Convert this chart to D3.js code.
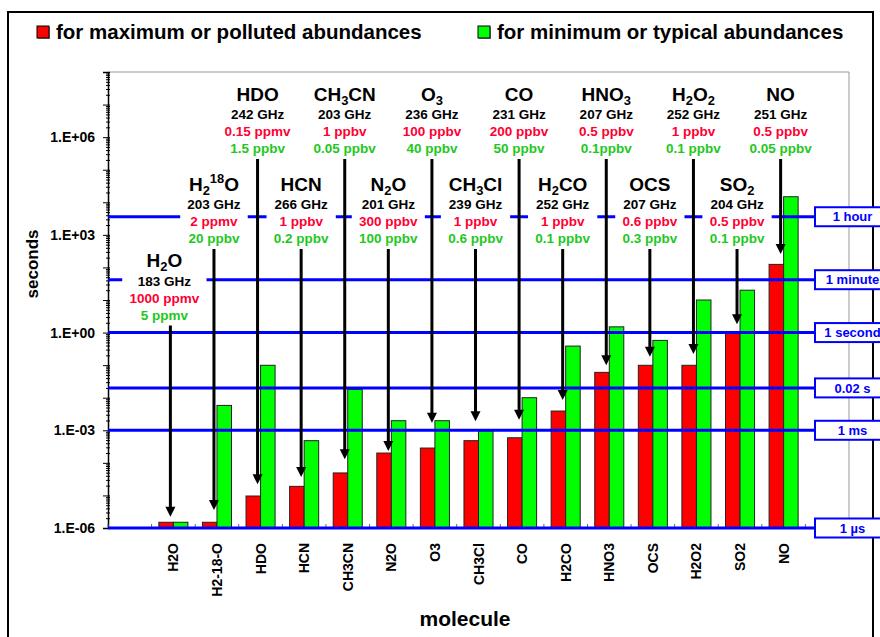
<!DOCTYPE html>
<html><head><meta charset="utf-8">
<script src="https://cdn.jsdelivr.net/npm/d3@7"></script>
<style>
body{margin:0;background:#fff}
svg{display:block;font-family:Arial,"Liberation Sans",sans-serif;font-weight:bold}
</style>
</head><body>
<svg id="c" width="880" height="637"></svg>
<script>
// ---------------- data ----------------
const molecules = ["H2O","H2-18-O","HDO","HCN","CH3CN","N2O","O3","CH3Cl","CO","H2CO","HNO3","OCS","H2O2","SO2","NO"];
const formulas  = ["H_2O","H_2^18O","HDO","HCN","CH_3CN","N_2O","O_3","CH_3Cl","CO","H_2CO","HNO_3","OCS","H_2O_2","SO_2","NO"];
const frequencies = ["183 GHz","203 GHz","242 GHz","266 GHz","203 GHz","201 GHz","236 GHz","239 GHz","231 GHz","252 GHz","207 GHz","207 GHz","252 GHz","204 GHz","251 GHz"];
const maxAbundance = ["1000 ppmv","2 ppmv","0.15 ppmv","1 ppbv","1 ppbv","300 ppbv","100 ppbv","1 ppbv","200 ppbv","1 ppbv","0.5 ppbv","0.6 ppbv","1 ppbv","0.5 ppbv","0.5 ppbv"];
const minAbundance = ["5 ppmv","20 ppbv","1.5 ppbv","0.2 ppbv","0.05 ppbv","100 ppbv","40 ppbv","0.6 ppbv","50 ppbv","0.1 ppbv","0.1ppbv","0.3 ppbv","0.1 ppbv","0.1 ppbv","0.05 ppbv"];
// seconds, maximum (polluted) abundance -> red
const maxSeconds = [1.5e-6,1.5e-6,9.6e-6,1.9e-5,4.9e-5,2.0e-4,2.85e-4,4.8e-4,5.9e-4,3.9e-3,0.06,0.099,0.099,1.0,124];
// seconds, minimum (typical) abundance -> green
const minSeconds = [1.5e-6,5.8e-3,0.099,4.8e-4,0.018,1.97e-3,1.97e-3,9.7e-4,0.01,0.385,1.5,0.575,10,20,14800];
// where each annotation arrow points (seconds)
const arrowTip = [2.2e-6,3.6e-6,2.2e-5,3.7e-5,1.3e-4,2.3e-4,1.7e-3,1.9e-3,2.1e-3,8.5e-3,0.1,0.18,0.22,1.8,258];
// annotation row: 0 = top, 1 = middle, 2 = lowest
const labelRow = [2,1,0,1,0,1,0,1,0,1,0,1,0,1,0];
// reference time lines
const refValues = [3600,42,1,0.02,0.001,1e-6];
const refLabels = ["1 hour","1 minute","1 second","0.02 s","1 ms","1 µs"];
const yTickValues = [1e-6,1e-3,1,1e3,1e6];
const legendLabels = ["for maximum or polluted abundances","for minimum or typical abundances"];
const seriesColors = ["#ff0000","#00ff00"];

// ---------------- layout ----------------
const svg = d3.select("#c");
const P = {l:108, r:849, t:72, b:528};
const BLUE = "#0000ff";
const RED_TXT = "#ff0033", GRN_TXT = "#1ec81e";
const FONT = "Arial,'Liberation Sans',sans-serif";

const y = d3.scaleLog().domain([1e-6,1e8]).range([P.b, P.t]);
const step = (P.r - P.l) / (molecules.length + 2);
const x = d3.scaleBand().domain(molecules).range([P.l + step, P.r - step]).padding(0);
const xs = d3.scaleBand().domain(["max","min"]).range([0, x.bandwidth()]).paddingInner(0).paddingOuter(0.5);

// outer frame
svg.append("rect").attr("x",8).attr("y",12).attr("width",865).attr("height",640)
  .attr("fill","none").attr("stroke","#000").attr("stroke-width",2);

// legend
const lg = svg.append("g");
[37,478].forEach((lx,i)=>{
  lg.append("rect").attr("x",lx+1).attr("y",27).attr("width",12).attr("height",12).attr("fill","#888");
  lg.append("rect").attr("x",lx).attr("y",26).attr("width",12).attr("height",12)
    .attr("fill",seriesColors[i]).attr("stroke","#000").attr("stroke-width",1);
  lg.append("text").attr("x",lx+19).attr("y",39).attr("font-size",20.5).attr("fill","#000").text(legendLabels[i]);
});

// plot area border (grey)
svg.append("path").attr("d",`M${P.l},${P.t}H${P.r}V${P.b}`).attr("fill","none").attr("stroke","#999").attr("stroke-width",1);

// bars
const bars = svg.append("g");
molecules.forEach((m,i)=>{
  [["max",maxSeconds[i],seriesColors[0]],["min",minSeconds[i],seriesColors[1]]].forEach(([k,v,c])=>{
    bars.append("rect")
      .attr("x", x(m)+xs(k)).attr("width", xs.bandwidth())
      .attr("y", y(v)).attr("height", P.b - y(v))
      .attr("fill", c).attr("stroke","#222").attr("stroke-width",1);
  });
});

// y axis
const decades = d3.range(-6,9).map(e=>Math.pow(10,e));
const minors = [];
d3.range(-6,8).forEach(e=>{ for(let k=2;k<10;k++) minors.push(k*Math.pow(10,e)); });
svg.append("g").attr("transform",`translate(${P.l},0)`)
  .call(d3.axisLeft(y).tickValues(minors).tickSize(3).tickFormat(""))
  .call(g=>g.select(".domain").remove())
  .selectAll("line").attr("stroke","#000").attr("x2",-2).attr("x1",2);
const fmt = d=>{const e=Math.round(Math.log10(d));return "1.E"+(e<0?"-":"+")+String(Math.abs(e)).padStart(2,"0");};
const yAx = svg.append("g").attr("transform",`translate(${P.l},0)`)
  .call(d3.axisLeft(y).tickValues(decades).tickSize(5).tickPadding(8)
        .tickFormat(d=>yTickValues.some(v=>Math.abs(v-d)/d<1e-6)?fmt(d):""));
yAx.select(".domain").attr("stroke","#000").attr("stroke-width",1.5);
yAx.selectAll("line").attr("stroke","#000").attr("x1",2);
yAx.selectAll("text").attr("font-size",14).attr("font-weight","bold").attr("font-family",FONT).attr("fill","#000");

// x axis
const xAx = svg.append("g").attr("transform",`translate(0,${P.b})`)
  .call(d3.axisBottom(x).tickSize(0).tickPadding(0));
xAx.select(".domain").attr("d",`M${P.l},0H${P.r}`).attr("stroke","#000");
xAx.selectAll("text").attr("transform","rotate(-90)").attr("x",-15).attr("y",0).attr("dy","0.36em")
  .style("text-anchor","end").attr("font-size",14).attr("font-weight","bold")
  .attr("font-family",FONT).attr("fill","#000");
xAx.selectAll(".bound").data(d3.range(0,molecules.length+3)).enter().append("line")
  .attr("x1",i=>P.l+i*step).attr("x2",i=>P.l+i*step).attr("y1",0).attr("y2",-4).attr("stroke","#666");

// reference lines (under annotations)
const refLines = svg.append("g");
refValues.forEach(v=>{
  refLines.append("line").attr("x1",P.l).attr("x2",815).attr("y1",y(v)).attr("y2",y(v))
    .attr("stroke",BLUE).attr("stroke-width",3);
});

// annotation blocks
const rowY = [94,184,260.5];
const annBg = svg.append("g");
const ann = svg.append("g");
function addFormula(t, s, size){
  const toks = s.match(/(_\d+|\^\d+|[^_^]+)/g);
  let off = 0;
  toks.forEach(tk=>{
    let target=0, fs=size, txt=tk;
    if(tk[0]==="_"){target=4; fs=size*0.68; txt=tk.slice(1);}
    else if(tk[0]==="^"){target=-8; fs=size*0.68; txt=tk.slice(1);}
    t.append("tspan").attr("dy",target-off).attr("font-size",fs).text(txt);
    off=target;
  });
}
const arrowX = i => x(molecules[i]) + x.bandwidth()/2 - 3;
molecules.forEach((m,i)=>{
  const Y = rowY[labelRow[i]];
  const cx = arrowX(i) - (labelRow[i]===2 ? 6 : 0);
  const bg = annBg.append("rect").attr("fill","#fff");
  const g = ann.append("g").attr("transform",`translate(${cx},${Y})`);
  const t0 = g.append("text").attr("text-anchor","middle").attr("y",6.5).attr("fill","#000");
  addFormula(t0, formulas[i], 19);
  const t1 = g.append("text").attr("text-anchor","middle").attr("y",20.5).attr("dy","0.36em").attr("font-size",13.5).attr("fill","#000").text(frequencies[i]);
  const t2 = g.append("text").attr("text-anchor","middle").attr("y",37.5).attr("dy","0.36em").attr("font-size",13.5).attr("fill",RED_TXT).text(maxAbundance[i]);
  const t3 = g.append("text").attr("text-anchor","middle").attr("y",54.5).attr("dy","0.36em").attr("font-size",13.5).attr("fill",GRN_TXT).text(minAbundance[i]);
  const w = d3.max([t0,t1,t2,t3], t=>t.node().getBBox().width) + 14;
  bg.attr("x",cx-w/2).attr("width",w).attr("y",Y-14).attr("height",77);
  // arrow
  const ax = arrowX(i), y0 = Y + 65, tip = y(arrowTip[i]);
  ann.append("line").attr("x1",ax).attr("x2",ax).attr("y1",y0).attr("y2",tip-8)
    .attr("stroke","#000").attr("stroke-width",3);
  ann.append("path").attr("d",`M${ax-5},${tip-10}L${ax+5},${tip-10}L${ax},${tip}Z`).attr("fill","#000");
});

// reference labels (boxes at right, on top)
const refBoxes = svg.append("g");
refValues.forEach((v,i)=>{
  const yy = y(v);
  refBoxes.append("rect").attr("x",815).attr("y",yy-9.5).attr("width",75).attr("height",19)
    .attr("fill","#fff").attr("stroke",BLUE).attr("stroke-width",2);
  refBoxes.append("text").attr("x",852.5).attr("y",yy).attr("dy","0.36em").attr("text-anchor","middle")
    .attr("font-size",13).attr("fill",BLUE).text(refLabels[i]);
});

// axis titles
svg.append("text").attr("transform","translate(32,264) rotate(-90)").attr("text-anchor","middle")
  .attr("dy","0.36em").attr("font-size",17).attr("fill","#000").text("seconds");
svg.append("text").attr("x",465).attr("y",618).attr("dy","0.36em").attr("text-anchor","middle")
  .attr("font-size",21).attr("fill","#000").text("molecule");
</script>
</body></html>
